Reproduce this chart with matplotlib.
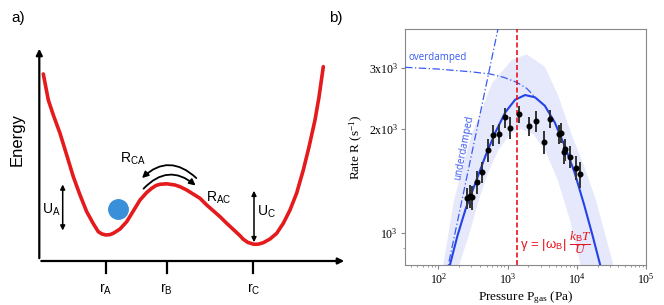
import matplotlib
matplotlib.use('Agg')
import matplotlib.pyplot as plt
from matplotlib.patches import FancyArrowPatch
import numpy as np

plt.rcParams['mathtext.fontset'] = 'custom'
plt.rcParams['mathtext.rm'] = 'Liberation Serif'
plt.rcParams['mathtext.it'] = 'Liberation Serif:italic'
plt.rcParams['mathtext.sf'] = 'Liberation Sans'

# ---------------- panel a: schematic double well (arbitrary units) ----------------
well_x = [43.3, 48.3, 53.3, 60, 66.7, 73.3, 80, 86.7, 93.3, 98.3, 102, 106, 110, 113.3,
          120, 126.7, 133.3, 140, 146.7, 151.7, 156, 160, 166.7, 175, 180, 186.7, 200,
          206.7, 220, 226.7, 240, 243.3, 248, 254, 258.5, 263.3, 270, 276.7, 283.3, 290,
          296.7, 303.3, 309, 315, 319, 323.3]
well_e = [231, 205, 190, 171.7, 150, 128.3, 110, 93.3, 81.3, 73.3, 71, 70, 70.4, 71.7,
          76, 83.3, 94, 105, 112.5, 116.7, 119.5, 120.7, 121.2, 120, 118.3, 115, 106.7,
          100, 88.3, 81.7, 69.3, 65.7, 62.5, 60.7, 60.9, 62.3, 66, 71.7, 81.7, 95,
          112, 135, 158, 185, 208, 238.3]
r_pos = [106, 166.7, 253.3]
r_labels = ['A', 'B', 'C']
particle = (117.7, 95.7)

# ---------------- panel b: rate vs pressure ----------------
p_data = [262, 284, 309, 364, 429, 523, 611, 761, 927, 1093, 1469, 2042, 2537, 3378,
          4114, 5480, 5970, 6520, 6810, 7870, 9680, 11140]
r_data = [1256, 1276, 1265, 1403, 1495, 1734, 1917, 1930, 2158, 2013, 2206, 2035, 2105,
          1826, 2133, 1930, 1946, 1708, 1742, 1658, 1542, 1475]
r_err = [90, 100, 100, 109, 108, 135, 138, 129, 144, 145, 123, 132, 152, 142, 130, 122,
         130, 133, 125, 119, 120, 131]

p_fit = [135, 147, 189, 248, 346, 480, 667, 927, 1288, 1790, 2488, 3457, 4800, 6670,
         9270, 12880, 16930, 21800, 23770]
r_fit = [753, 805, 979, 1170, 1398, 1669, 1952, 2230, 2427, 2503, 2466, 2330, 2086,
         1785, 1495, 1196, 979, 805, 753]

p_band_hi = [111, 118, 169, 228, 309, 597, 820, 1152, 1887, 3456, 5354, 8290, 12590,
             18870, 33780, 36060]
r_band_hi = [753, 805, 1243, 1569, 1939, 2707, 2917, 3162, 3285, 3024, 2503, 1939, 1569,
             1243, 805, 753]
p_band_lo = [193, 200, 277, 385, 535, 744, 1104, 1585, 2352, 3607, 5354, 7943, 11040, 11600]
r_band_lo = [753, 805, 984, 1243, 1508, 1740, 1935, 1995, 1930, 1705, 1413, 1089, 829, 753]

p_over = [33, 97.7, 293, 566, 877, 1358, 1888, 2570]
r_over = [3012, 2978, 2924, 2880, 2818, 2725, 2618, 2454]
p_under = [130, 774]
r_under = [753, 4130]

p_cross = 1377

fig = plt.figure(figsize=(6.64, 3.05), dpi=100)

# ---- panel a ----
ax = fig.add_axes([0, 0, 340 / 664, 1])
ax.set_xlim(0, 340)
ax.set_ylim(0, 305)
ax.axis('off')

ax.plot(well_x, well_e, color='#e41a1c', lw=2.6, solid_capstyle='round',
        solid_joinstyle='round')
ax.annotate('', xy=(39.3, 259), xytext=(39.3, 44), annotation_clip=False,
            arrowprops=dict(arrowstyle='-|>', color='k', lw=1.6, mutation_scale=9))
ax.annotate('', xy=(347, 44), xytext=(38.5, 44), annotation_clip=False,
            arrowprops=dict(arrowstyle='-|>', color='k', lw=1.6, mutation_scale=9))
for x, lab in zip(r_pos, r_labels):
    ax.plot([x, x], [43, 32], color='k', lw=1.6)
    ax.text(x, 16, r'$\mathsf{r_{%s}}$' % lab, ha='center', va='center', fontsize=10)

ax.text(17, 165, 'Energy', rotation=90, ha='center', va='center', fontsize=12,
        family='Liberation Sans')
ax.text(18, 287, 'a)', ha='center', va='center', fontsize=11, family='Liberation Sans')
ax.text(336, 287, 'b)', ha='center', va='center', fontsize=11, family='Liberation Sans')

ax.annotate('', xy=(62.7, 123.3), xytext=(62.7, 71.7),
            arrowprops=dict(arrowstyle='<|-|>', color='k', lw=1.1, mutation_scale=7))
ax.annotate('', xy=(254, 117), xytext=(254, 60),
            arrowprops=dict(arrowstyle='<|-|>', color='k', lw=1.1, mutation_scale=7))
ax.text(51, 95, r'$\mathsf{U_A}$', ha='center', va='center', fontsize=10)
ax.text(266, 93.3, r'$\mathsf{U_C}$', ha='center', va='center', fontsize=10)
ax.text(133, 146.7, r'$\mathsf{R_{CA}}$', ha='center', va='center', fontsize=10)
ax.text(219, 106.7, r'$\mathsf{R_{AC}}$', ha='center', va='center', fontsize=10)

ax.plot(*particle, 'o', color='#3a8fd9', markersize=14)

ax.add_patch(FancyArrowPatch((198.3, 125), (140, 125), connectionstyle='arc3,rad=0.5',
                             arrowstyle='-|>', mutation_scale=9, lw=1.3, color='k'))
ax.add_patch(FancyArrowPatch((141.7, 114.3), (197.7, 117.7), connectionstyle='arc3,rad=-0.5',
                             arrowstyle='-|>', mutation_scale=9, lw=1.3, color='k'))

# ---- panel b ----
bx = fig.add_axes([405 / 664, 1 - 265 / 305, 241 / 664, 236 / 305])
bx.set_xscale('log')
bx.set_yscale('log')

bx.fill(p_band_hi + p_band_lo[::-1], r_band_hi + r_band_lo[::-1],
        color='#e6e8fb', lw=0, zorder=1)
bx.plot(p_fit, r_fit, color='#2343e8', lw=1.5, zorder=3)
bx.plot(p_over, r_over, color='#3a5af0', lw=0.9, ls=(0, (6, 2, 1, 2)), zorder=3)
bx.plot(p_under, r_under, color='#3a5af0', lw=0.9, ls=(0, (6, 2, 1, 2)), zorder=3)
bx.axvline(p_cross, color='#e8141b', lw=1.2, ls=(0, (3, 1.5)), zorder=4)
bx.errorbar(p_data, r_data, yerr=r_err, fmt='o', color='k', ms=3.3,
            ecolor='#333333', elinewidth=1.4, capsize=0, zorder=5)

bx.text(37, 3207, 'overdamped', color='#3a5af0', fontsize=7, ha='left', va='center',
        family='Open Sans')
bx.text(235, 1758, 'underdamped', color='#3a5af0', fontsize=7, ha='center', va='center',
        rotation=79, family='Open Sans')
bx.text(1510, 935, r'γ = |ω$_{\mathsf{B}}$| $\dfrac{k_{\mathsf{B}}T}{U}$', color='#e8141b',
        fontsize=9.5, ha='left', va='center', family='Liberation Sans')

bx.set_xlim(33, 1e5)
bx.set_ylim(805, 3890)
bx.set_xticks([1e2, 1e3, 1e4, 1e5])
bx.set_xticklabels(['10$^{2}$', '10$^{3}$', '10$^{4}$', '10$^{5}$'])
bx.set_yticks([1000, 2000, 3000])
bx.set_yticklabels(['10$^{3}$', '2x10$^{3}$', '3x10$^{3}$'])
for lab in bx.get_xticklabels() + bx.get_yticklabels():
    lab.set_family('Liberation Serif')
bx.tick_params(which='both', labelsize=8.5, color='#888888', pad=2)
bx.tick_params(which='major', length=3)
bx.tick_params(which='minor', length=1.5)
for s in bx.spines.values():
    s.set_color('#888888')
    s.set_linewidth(0.8)

bx.set_xlabel('Pressure P$_{\\rm gas}$ (Pa)', family='Liberation Serif', fontsize=9.5,
              labelpad=2)
bx.set_ylabel('Rate R (s$^{-1}$)', family='Liberation Serif', fontsize=9.5, labelpad=3)

fig.savefig('out.png', dpi=100)
